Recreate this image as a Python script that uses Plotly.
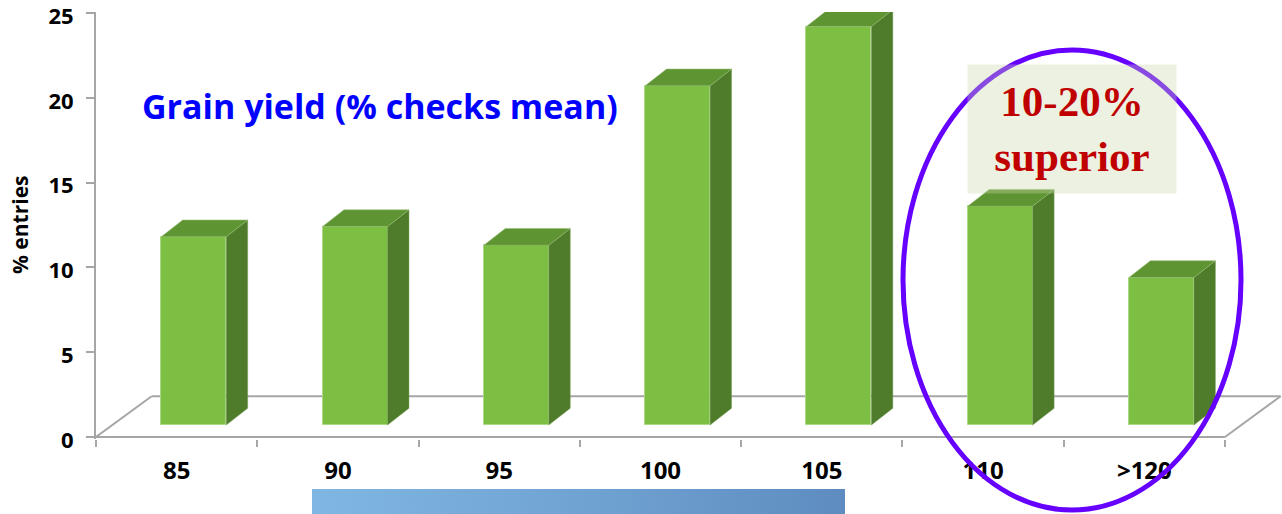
import plotly.graph_objects as go

# ---------------- data ----------------
categories = ["85", "90", "95", "100", "105", "110", ">120"]
entries_pct = [11.1, 11.7, 10.6, 20.0, 23.5, 12.9, 8.7]
y_ticks = [0, 5, 10, 15, 20, 25]
y_title = "% entries"
chart_title = "Grain yield (% checks mean)"
callout = "10-20%<br>superior"

# ---------------- styling / geometry ----------------
W, H = 1282, 514
PX_LEFT, PX_ZERO, PX_TOP, PX_XEND = 96, 437, 13, 1225
Y_MIN, Y_MAX = -0.12, 25
Y_TOP = 25.06
n = len(categories)
unit_y = (PX_ZERO - PX_TOP) / Y_MAX
unit_x = (PX_XEND - PX_LEFT) / n
px_bottom = PX_ZERO + (-Y_MIN) * unit_y
px_top = PX_ZERO - Y_TOP * unit_y
X_MAX = (W - PX_LEFT) / unit_x

FLOOR_DX, FLOOR_DY = 0.345, 2.4      # depth of the 3D floor (data units)
BAR_DX, BAR_DY = 0.133, 0.99         # depth of each 3D bar
BAR_W = 0.403
shift = (FLOOR_DX - BAR_DX) / 2
base = (FLOOR_DY - BAR_DY) / 2

FRONT = "rgb(124,191,66)"
TOP = "rgb(95,148,50)"
SIDE = "rgb(79,124,42)"
EDGE = "rgba(170,215,130,0.9)"
GRAY = "rgb(166,166,166)"
FONT = "Open Sans"

xc = [i + 0.5 + shift for i in range(n)]

side_x, side_y, top_x, top_y = [], [], [], []
for x, v in zip(xc, entries_pct):
    xl, xr = x - BAR_W / 2, x + BAR_W / 2
    b, t = base, base + v
    side_x += [xr, xr + BAR_DX, xr + BAR_DX, xr, xr, None]
    side_y += [b, b + BAR_DY, t + BAR_DY, t, b, None]
    top_x += [xl, xl + BAR_DX, xr + BAR_DX, xr, xl, None]
    top_y += [t, t + BAR_DY, t + BAR_DY, t, t, None]

fig = go.Figure()
fig.add_trace(go.Bar(
    x=xc, y=entries_pct, base=[base] * n, width=BAR_W,
    marker=dict(color=FRONT, line=dict(color=EDGE, width=1)),
    hoverinfo="skip"))
fig.add_trace(go.Scatter(x=side_x, y=side_y, mode="lines", fill="toself",
                         fillcolor=SIDE, line=dict(color="rgba(120,160,90,0.6)", width=0.8),
                         hoverinfo="skip"))
fig.add_trace(go.Scatter(x=top_x, y=top_y, mode="lines", fill="toself",
                         fillcolor=TOP, line=dict(color="rgba(150,190,120,0.7)", width=0.8),
                         hoverinfo="skip"))

# gradient bar below the axis
fig.add_trace(go.Scatter(x=[0, 1, 1, 0, 0], y=[0, 0, 1, 1, 0], mode="none",
                         fill="toself",
                         fillgradient=dict(type="horizontal",
                                           colorscale=[[0, "rgb(128,183,226)"],
                                                       [0.5, "rgb(112,163,210)"],
                                                       [1, "rgb(94,140,192)"]]),
                         xaxis="x3", yaxis="y3", hoverinfo="skip"))

# floor of the 3D plot
floor_segments = [
    (0, 0, n, 0),
    (0, 0, FLOOR_DX, FLOOR_DY),
    (FLOOR_DX, FLOOR_DY, n + FLOOR_DX, FLOOR_DY),
    (n, 0, n + FLOOR_DX, FLOOR_DY),
]
for x0, y0, x1, y1 in floor_segments:
    fig.add_shape(type="line", xref="x", yref="y", x0=x0, y0=y0, x1=x1, y1=y1,
                  line=dict(color=GRAY, width=2), layer="below")

# highlight ellipse
fig.add_shape(type="circle", xref="paper", yref="paper",
              x0=903 / W, x1=1241 / W, y0=1 - 510 / H, y1=1 - 50 / H,
              line=dict(color="rgb(102,0,255)", width=5), layer="above")

fig.add_annotation(text="<b>" + chart_title + "</b>", xref="paper", yref="paper",
                   x=380 / W, y=1 - 106 / H, xanchor="center", yanchor="middle",
                   showarrow=False, font=dict(family=FONT, size=34, color="#0000FF"))
fig.add_annotation(text="<b>" + y_title + "</b>", xref="paper", yref="paper",
                   x=20 / W, y=1 - 225 / H, textangle=-90, xanchor="center",
                   yanchor="middle", showarrow=False,
                   font=dict(family=FONT, size=21, color="black"))
fig.add_annotation(text="<b>" + callout + "</b>", xref="paper", yref="paper",
                   x=1072 / W, y=1 - 129 / H, xanchor="center", yanchor="middle",
                   width=208, height=128, borderpad=0, showarrow=False,
                   bgcolor="rgba(200,215,170,0.35)",
                   font=dict(family="Liberation Serif", size=43, color="#C00000"))

fig.update_layout(
    width=W, height=H, autosize=False,
    margin=dict(l=0, r=0, t=0, b=0, autoexpand=False),
    paper_bgcolor="white", plot_bgcolor="white",
    showlegend=False, bargap=0,
    xaxis=dict(domain=[PX_LEFT / W, 1], range=[0, X_MAX], automargin=False,
               tickmode="array", tickvals=[i + 0.5 for i in range(n)],
               ticktext=categories, ticks="", showline=False, showgrid=False,
               zeroline=False, ticklabelstandoff=15, ticklabeloverflow="allow",
               tickfont=dict(family=FONT, size=24, color="black", weight="bold"),
               minor=dict(tickmode="linear", tick0=0, dtick=1, ticks="outside",
                          ticklen=7, tickwidth=2, tickcolor=GRAY, showgrid=False)),
    yaxis=dict(domain=[(H - px_bottom) / H, (H - px_top) / H], range=[Y_MIN, Y_TOP],
               automargin=False, ticklabeloverflow="allow", ticklabelshift=3,
               tickmode="array", tickvals=y_ticks, ticks="outside", ticklen=8,
               tickwidth=2, tickcolor=GRAY, showline=True, linecolor=GRAY,
               linewidth=2, showgrid=False, zeroline=False, ticklabelstandoff=8,
               tickfont=dict(family=FONT, size=22, color="black", weight="bold")),
    xaxis3=dict(domain=[312 / W, 845 / W], range=[0, 1], visible=False,
                anchor="y3", automargin=False),
    yaxis3=dict(domain=[0, (H - 489) / H], range=[0, 1], visible=False,
                anchor="x3", automargin=False),
)

fig.write_html("out.html", config={"displayModeBar": False},
               post_script="document.body.style.margin='0';document.body.style.padding='0';")
